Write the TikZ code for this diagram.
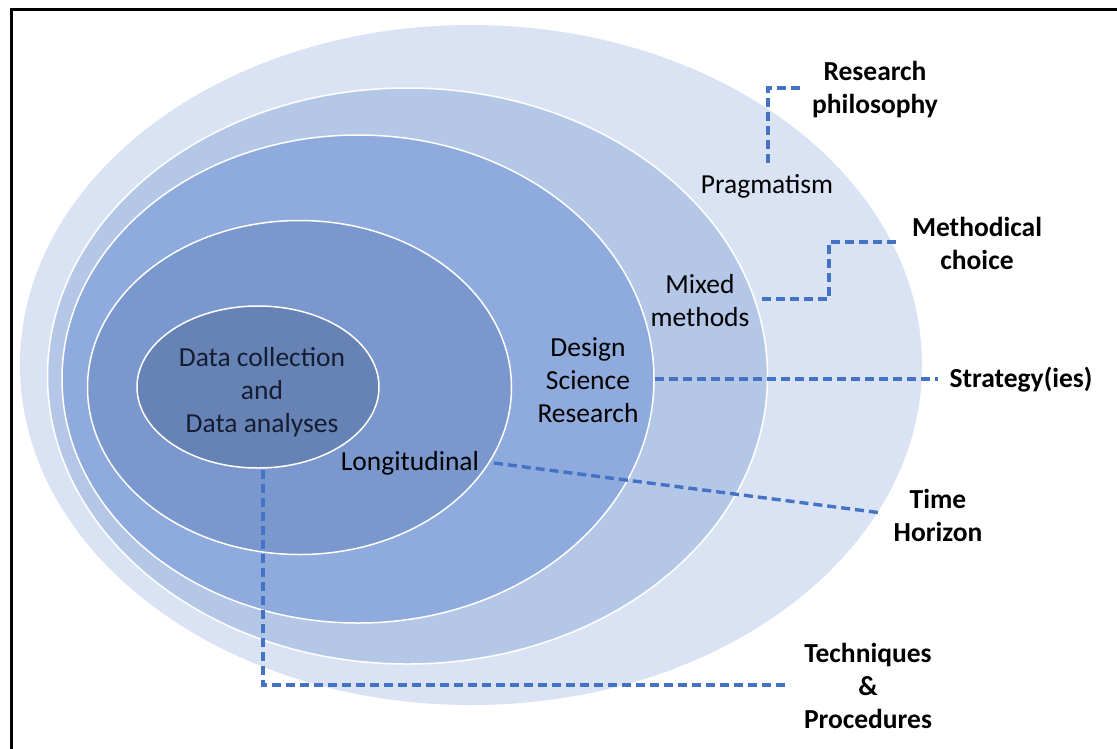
\documentclass[tikz,border=0pt]{standalone}
\usepackage{fontspec}
\setmainfont{Carlito}
\usetikzlibrary{shapes.geometric}
\definecolor{cA}{HTML}{DAE3F3}
\definecolor{cB}{HTML}{B4C7E7}
\definecolor{cC}{HTML}{8FAADC}
\definecolor{cD}{HTML}{7A98CD}
\definecolor{cE}{HTML}{6783B5}
\definecolor{cblue}{HTML}{4472C4}
\definecolor{cdark}{HTML}{151D33}
\begin{document}
\begin{tikzpicture}[x=1pt,y=-1pt,
  ring/.style={ellipse, draw=white, line width=1.5pt, inner sep=0pt},
  lbl/.style={font=\fontsize{27.5}{33}\selectfont, align=center, inner sep=0pt, text=black},
  hd/.style={font=\fontsize{27.5}{33}\selectfont\bfseries, align=center, inner sep=0pt, text=black},
  conn/.style={draw=cblue, line width=3.4pt, dash pattern=on 9pt off 5pt}]
\useasboundingbox (0,0) rectangle (1117,748);
\fill[white] (0,0) rectangle (1117,748);
% frame
\draw[black, line width=3pt] (11,760) -- (11,9) -- (1130,9);
% rings
\node[ring, draw=none, fill=cA, minimum width=902pt, minimum height=680pt] (r1) at (471,365) {};
\node[ring, fill=cB, minimum width=720pt, minimum height=576pt] (r2) at (407.5,376) {};
\node[ring, fill=cC, minimum width=592pt, minimum height=488pt] (r3) at (358,379) {};
\node[ring, fill=cD, minimum width=424pt, minimum height=334pt] (r4) at (299.5,387.5) {};
\node[ring, fill=cE, minimum width=242pt, minimum height=162pt] (core) at (258,387) {};
% labels
\node[hd] (philo) at (875,90) {Research\\philosophy};
\node[lbl] (prag) at (767,186) {Pragmatism};
\node[hd] (meth) at (977,243) {Methodical\\choice};
\node[lbl] (mixed) at (700,301) {Mixed\\methods};
\node[hd] (strat) at (1021,380) {Strategy(ies)};
\node[lbl] (dsr) at (588,380) {Design\\Science\\Research};
\node[lbl] (long) at (410,463) {Longitudinal};
\node[hd] (time) at (938,515) {Time\\Horizon};
\node[hd] (tech) at (868,686) {Techniques\\\&\\Procedures};
\node[lbl, text=cdark] (data) at (262,392) {Data collection\\and\\Data analyses};
% connector end points
\coordinate (pA) at (768,163);
\coordinate (pB) at (800,88);
\coordinate (mA) at (762,299);
\coordinate (mK) at (829,299);
\coordinate (mB) at (896,242);
\coordinate (sB) at (938,379);
\coordinate (tA) at (494,463);
\coordinate (tB) at (882,513);
\coordinate (qA) at (263,470);
\coordinate (qB) at (790,685);
% connectors
\draw[conn] (pA) |- (pB);
\draw[conn] (mA) -- (mK) |- (mB);
\draw[conn] (r3.east) -- (sB);
\draw[conn] (tA) -- (tB);
\draw[conn] (qA) |- (qB);
\end{tikzpicture}
\end{document}
